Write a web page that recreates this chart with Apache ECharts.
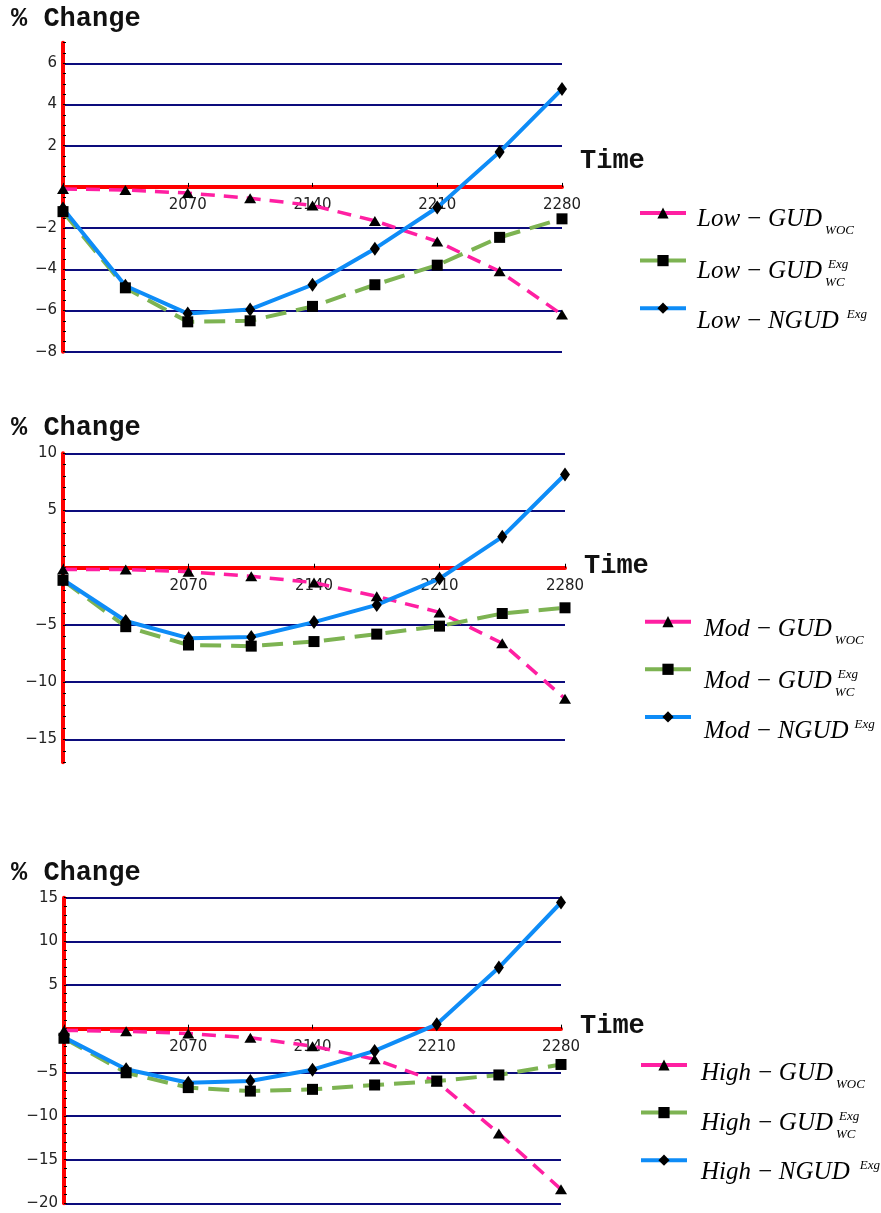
<!DOCTYPE html>
<html>
<head>
<meta charset="utf-8">
<script src="https://cdn.jsdelivr.net/npm/echarts@6/dist/echarts.min.js"></script>
<style>
  html, body { margin: 0; padding: 0; background: #fff; }
  #chart { width: 881px; height: 1213px; }
</style>
</head>
<body>
<div id="chart"></div>
<script>
// Simulation years and the labelled time ticks
const years = [2000, 2035, 2070, 2105, 2140, 2175, 2210, 2245, 2280];
const timeLabels = [2070, 2140, 2210, 2280];

// % change, low scenario
const lowWoc  = [-0.1, -0.15, -0.3, -0.55, -0.9, -1.65, -2.65, -4.1, -6.2];
const lowWc   = [-1.2, -4.9, -6.55, -6.5, -5.8, -4.75, -3.8, -2.45, -1.55];
const lowNgud = [-1.05, -4.8, -6.15, -5.95, -4.75, -3.0, -1.0, 1.7, 4.75];

// % change, moderate scenario
const modWoc  = [-0.15, -0.15, -0.35, -0.75, -1.3, -2.5, -3.9, -6.6, -11.45];
const modWc   = [-1.1, -5.15, -6.75, -6.85, -6.45, -5.8, -5.1, -4.0, -3.5];
const modNgud = [-1.05, -4.65, -6.15, -6.05, -4.75, -3.25, -0.95, 2.7, 8.15];

// % change, high scenario
const highWoc  = [-0.2, -0.3, -0.55, -1.05, -2.0, -3.5, -6.05, -12.0, -18.4];
const highWc   = [-1.1, -5.05, -6.75, -7.15, -6.95, -6.45, -6.0, -5.3, -4.1];
const highNgud = [-1.0, -4.65, -6.2, -6.0, -4.7, -2.55, 0.5, 7.0, 14.45];

// Panel layout (pixels) and axis ranges
const panels = [
  { level: 'Low', woc: lowWoc, wc: lowWc, ngud: lowNgud,
    grid: { left: 63, top: 42.7, width: 499, height: 309 },
    y: { min: -8, max: 7, interval: 2, minor: 4, showMin: true, showMax: false },
    titleY: 19, timeX: 580, timeY: 161,
    legend: { left: 638, top: 206, textX: 697, rows: [219, 271, 321], supGap: 8 } },
  { level: 'Mod', woc: modWoc, wc: modWc, ngud: modNgud,
    grid: { left: 63, top: 453.3, width: 502, height: 309 },
    y: { min: -17, max: 10, splitNumber: 5, minor: 5, showMin: false, showMax: true },
    titleY: 428, timeX: 584, timeY: 566,
    legend: { left: 643, top: 614.7, textX: 704, rows: [629, 681, 731], supGap: 6 } },
  { level: 'High', woc: highWoc, wc: highWc, ngud: highNgud,
    grid: { left: 64, top: 897.7, width: 497, height: 305.6 },
    y: { min: -20, max: 15, interval: 5, minor: 5, showMin: true, showMax: true },
    titleY: 873, timeX: 580, timeY: 1026,
    legend: { left: 639, top: 1058, textX: 701, rows: [1073, 1123, 1172], supGap: 10 } }
];

const PINK = '#ff1fa2', GREEN = '#7db352', BLUE = '#0e8cf7', RED = '#ff0000', NAVY = '#0c0c7c';
const labelFont = { fontSize: 15, fontFamily: 'DejaVu Sans', color: '#222' };
const minus = v => String(v).replace('-', '\u2212');

const pairs = vals => years.map((yr, k) => [yr, vals[k]]);

const seriesNames = lvl => [lvl + '\u2212GUD WOC', lvl + '\u2212GUD WC Exg', lvl + '\u2212NGUD Exg'];

const series = [];
panels.forEach((p, i) => {
  const names = seriesNames(p.level);
  series.push({
    name: names[0], type: 'line', xAxisIndex: i, yAxisIndex: i, data: pairs(p.woc),
    symbol: 'triangle', symbolSize: [12, 10], showSymbol: true,
    lineStyle: { color: PINK, width: 3.5, type: [14, 9] }, itemStyle: { color: '#000' }
  });
  series.push({
    name: names[1], type: 'line', xAxisIndex: i, yAxisIndex: i, data: pairs(p.wc),
    symbol: 'rect', symbolSize: 11, showSymbol: true,
    lineStyle: { color: GREEN, width: 4, type: [21, 10] }, itemStyle: { color: '#000' }
  });
  series.push({
    name: names[2], type: 'line', xAxisIndex: i, yAxisIndex: i, data: pairs(p.ngud),
    symbol: 'diamond', symbolSize: [10, 14], showSymbol: true,
    lineStyle: { color: BLUE, width: 4, type: 'solid' }, itemStyle: { color: '#000' }
  });
});

// Legend labels: italic serif with sub/superscripts
const measureCtx = document.createElement('canvas').getContext('2d');
const textWidth = (s, font) => { measureCtx.font = font; return measureCtx.measureText(s).width; };
const mainFont = 'italic 25px "Liberation Serif"';
const scriptFont = 'italic 13px "Liberation Serif"';
const minusPad = 5.5;

function legendLabel(x, y, level, base, sub, sup, supGap) {
  const w = textWidth(level, mainFont) + textWidth('\u2212', mainFont) + 2 * minusPad + textWidth(base, mainFont);
  const out = [{
    type: 'text', x: x, y: y,
    style: {
      text: '{a|' + level + '}{m|\u2212}{a|' + base + '}',
      rich: {
        a: { font: mainFont, fill: '#000' },
        m: { font: mainFont, fill: '#000', padding: [0, minusPad] }
      },
      align: 'left', verticalAlign: 'middle'
    }
  }];
  if (sub) out.push({ type: 'text', x: x + w + 3, y: y + 12,
    style: { text: sub, font: scriptFont, fill: '#000', align: 'left', verticalAlign: 'middle' } });
  if (sup) out.push({ type: 'text', x: x + w + supGap, y: y - 6,
    style: { text: sup, font: scriptFont, fill: '#000', align: 'left', verticalAlign: 'middle' } });
  return out;
}

const graphics = [];
panels.forEach(p => {
  graphics.push({ type: 'text', x: 11, y: p.titleY,
    style: { text: '% Change', font: 'bold 27px "Liberation Mono"', fill: '#111', align: 'left', verticalAlign: 'middle' } });
  graphics.push({ type: 'text', x: p.timeX, y: p.timeY,
    style: { text: 'Time', font: 'bold 27px "Liberation Mono"', fill: '#111', align: 'left', verticalAlign: 'middle' } });
  const L = p.legend;
  graphics.push(...legendLabel(L.textX, L.rows[0], p.level, 'GUD', 'WOC', null, 0));
  graphics.push(...legendLabel(L.textX, L.rows[1], p.level, 'GUD', 'WC', 'Exg', 6));
  graphics.push(...legendLabel(L.textX, L.rows[2], p.level, 'NGUD', null, 'Exg', L.supGap));
});

// The time axis sits on the zero line: shift it up from the grid bottom by zero's pixel height
const zeroOffset = p => -p.grid.height * (0 - p.y.min) / (p.y.max - p.y.min);

const legendColors = [PINK, GREEN, BLUE];

const option = {
  backgroundColor: '#fff',
  animation: false,
  grid: panels.map(p => Object.assign({ outerBoundsMode: 'none', containLabel: false }, p.grid)),
  xAxis: panels.map((p, i) => ({
    type: 'value', gridIndex: i, min: years[0], max: years[years.length - 1], interval: 70,
    offset: zeroOffset(p),
    axisLine: { show: true, onZero: false, lineStyle: { color: RED, width: 4 } },
    axisTick: { show: true, inside: true, length: 4, lineStyle: { color: '#000', width: 1 } },
    axisLabel: Object.assign({ margin: 11, formatter: v => timeLabels.includes(v) ? String(v) : '' }, labelFont),
    splitLine: { show: false }
  })),
  yAxis: panels.map((p, i) => {
    const ax = {
      type: 'value', gridIndex: i, min: p.y.min, max: p.y.max,
      axisLine: { show: true, lineStyle: { color: RED, width: 4 } },
      axisTick: { show: true, inside: true, length: 3, lineStyle: { color: '#000', width: 1 } },
      minorTick: { show: true, splitNumber: p.y.minor, length: 3, lineStyle: { color: '#000', width: 1 } },
      axisLabel: Object.assign({
        margin: 6, showMinLabel: p.y.showMin, showMaxLabel: p.y.showMax,
        formatter: v => v === 0 ? '' : minus(v)
      }, labelFont),
      splitLine: { show: true, showMinLine: p.y.showMin, showMaxLine: p.y.showMax,
        lineStyle: { color: NAVY, width: 2 } }
    };
    if (p.y.interval) ax.interval = p.y.interval; else ax.splitNumber = p.y.splitNumber;
    return ax;
  }),
  legend: panels.map(p => ({
    orient: 'vertical', left: p.legend.left, top: p.legend.top, padding: 0,
    itemWidth: 46, itemHeight: 14, itemGap: 35, selectedMode: false,
    data: seriesNames(p.level).map((n, k) => ({
      name: n, lineStyle: { color: legendColors[k], width: 4, type: 'solid' }
    })),
    formatter: () => '', textStyle: { fontSize: 1 }
  })),
  series: series,
  graphic: graphics
};

const chart = echarts.init(document.getElementById('chart'), null, { renderer: 'canvas' });
chart.setOption(option);
</script>
</body>
</html>
